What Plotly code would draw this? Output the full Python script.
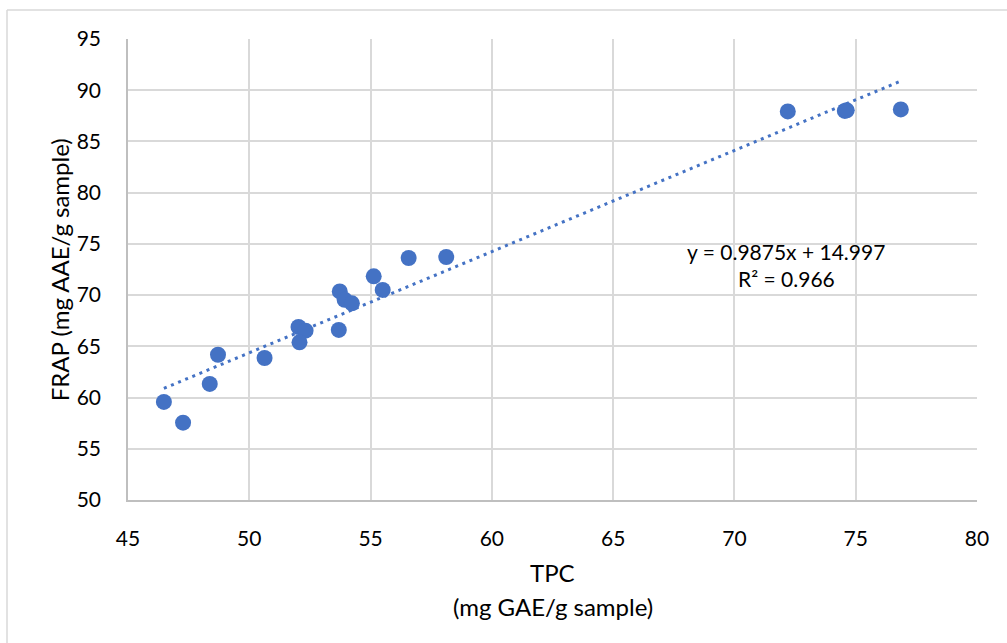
import plotly.graph_objects as go

# TPC vs FRAP measurements
tpc = [46.48, 47.27, 48.37, 48.71, 50.63, 52.03, 52.32, 52.07, 53.69, 53.73,
       53.93, 54.23, 55.13, 55.50, 56.57, 58.12, 72.20, 74.55, 74.63, 76.86]
frap = [59.57, 57.55, 61.33, 64.18, 63.86, 66.89, 66.53, 65.39, 66.60, 70.36,
        69.55, 69.20, 71.83, 70.51, 73.62, 73.72, 87.93, 87.98, 88.04, 88.13]

# Linear trend reported on the chart
slope = 0.9875
intercept = 14.997
r_squared = 0.966

x_ticks = [45, 50, 55, 60, 65, 70, 75, 80]
y_ticks = [50, 55, 60, 65, 70, 75, 80, 85, 90, 95]

BLUE = "#4472C4"
GRID = "#D9D9D9"
AXIS = "#BFBFBF"
FONT = "Lato"
TICK_FS = 21
EQ_FS = 21
TITLE_FS = 24

W, H = 1007, 643
ML, MR, MT, MB = 128, 30, 39, 143
PW, PH = W - ML - MR, H - MT - MB


def px(x):
    return (x - ML) / PW


def py(y):
    return (H - MB - y) / PH


trend_x = [min(tpc), max(tpc)]
trend_y = [slope * v + intercept for v in trend_x]

fig = go.Figure()
fig.add_trace(go.Scatter(
    x=trend_x, y=trend_y, mode="lines",
    line=dict(color=BLUE, width=3, dash="3px,4.7px"),
    hoverinfo="skip", showlegend=False,
))
fig.add_trace(go.Scatter(
    x=tpc, y=frap, mode="markers",
    marker=dict(color=BLUE, size=16, line=dict(width=0)),
    showlegend=False,
))

fig.update_layout(
    width=W, height=H, autosize=False,
    margin=dict(l=ML, r=MR, t=MT, b=MB, pad=0),
    paper_bgcolor="white", plot_bgcolor="white",
    font=dict(family=FONT, size=TICK_FS, color="#000000"),
    xaxis=dict(
        range=[45, 80], tickvals=x_ticks, ticktext=[str(v) for v in x_ticks],
        showgrid=True, gridcolor=GRID, gridwidth=1.5,
        showline=True, linecolor=AXIS, linewidth=1.5,
        zeroline=False, ticks="", ticklabelstandoff=19,
        tickfont=dict(family=FONT, size=TICK_FS),
    ),
    yaxis=dict(
        range=[50, 95], tickvals=y_ticks, ticktext=[str(v) for v in y_ticks],
        showgrid=True, gridcolor=GRID, gridwidth=1.5,
        showline=True, linecolor=AXIS, linewidth=1.5,
        zeroline=False, ticks="", ticklabelstandoff=21,
        tickfont=dict(family=FONT, size=TICK_FS),
    ),
    annotations=[
        dict(text="TPC", xref="paper", yref="paper", x=px(552.7), y=py(572),
             xanchor="center", yanchor="middle", showarrow=False,
             font=dict(family=FONT, size=TITLE_FS)),
        dict(text="(mg GAE/g sample)", xref="paper", yref="paper", x=px(552.7), y=py(606),
             xanchor="center", yanchor="middle", showarrow=False,
             font=dict(family=FONT, size=TITLE_FS)),
        dict(text="FRAP (mg AAE/g sample)", xref="paper", yref="paper", x=px(59.3), y=py(270),
             xanchor="center", yanchor="middle", showarrow=False, textangle=-90,
             font=dict(family=FONT, size=TITLE_FS)),
        dict(text=f"y = {slope}x + {intercept}", xref="paper", yref="paper",
             x=px(786), y=py(251.7), xanchor="center", yanchor="middle", showarrow=False,
             font=dict(family=FONT, size=EQ_FS)),
        dict(text=f"R² = {r_squared}", xref="paper", yref="paper",
             x=px(786), y=py(278.3), xanchor="center", yanchor="middle", showarrow=False,
             font=dict(family=FONT, size=EQ_FS)),
    ],
    shapes=[
        dict(type="line", xref="paper", yref="paper", x0=px(7), x1=px(W + 5),
             y0=py(10), y1=py(10), line=dict(color=GRID, width=1.5)),
        dict(type="line", xref="paper", yref="paper", x0=px(7), x1=px(7),
             y0=py(10), y1=py(H + 5), line=dict(color=GRID, width=1.5)),
    ],
)

fig.write_html("out.html")
